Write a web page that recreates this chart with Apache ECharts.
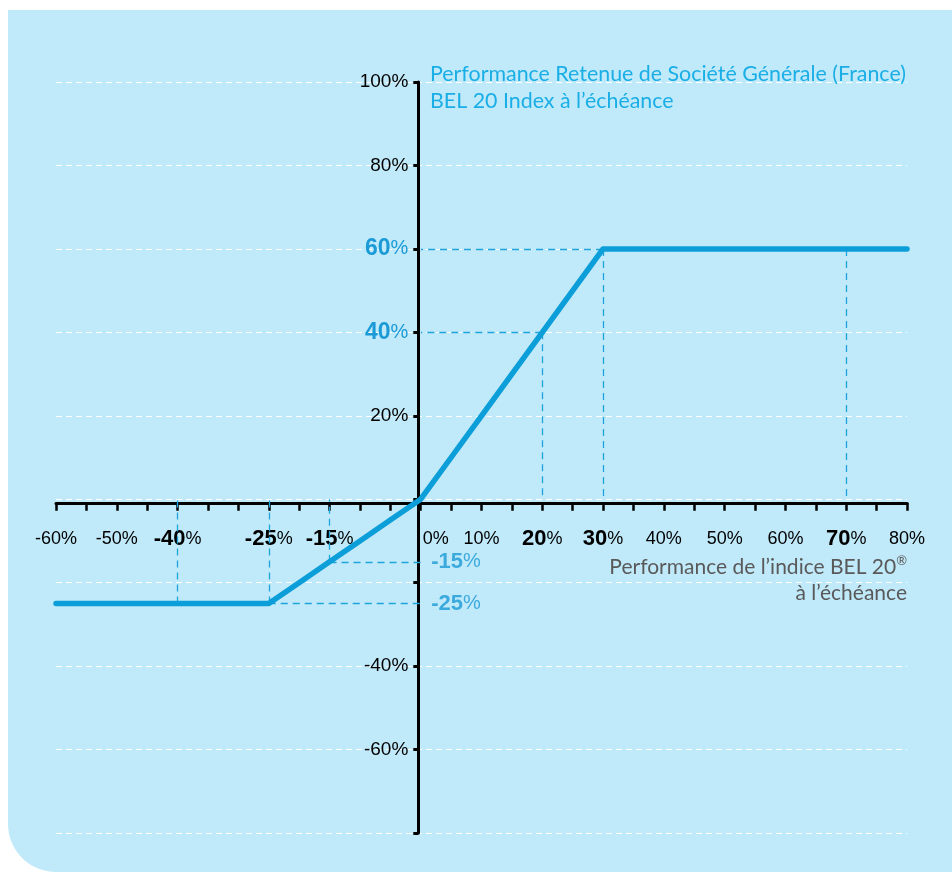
<!DOCTYPE html>
<html><head><meta charset="utf-8">
<script src="https://cdn.jsdelivr.net/npm/echarts@6/dist/echarts.min.js"></script>
<style>html,body{margin:0;padding:0;background:#fff}#c{width:952px;height:872px}</style>
</head><body><div id="c"></div>
<script>
// Data
const xPerf = [-60,-55,-50,-45,-40,-35,-30,-25,-20,-15,-10,-5,0,5,10,15,20,25,30,35,40,45,50,55,60,65,70,75,80];
const yPerf = [-25,-25,-25,-25,-25,-25,-25,-25,-20,-15,-10,-5,0,10,20,30,40,50,60,60,60,60,60,60,60,60,60,60,60];
const xBoldTicks = [-40,-25,-15,20,30,70];
const xHiddenTicks = [-30,-20,-10];
const yLabelValues = [100,80,60,40,20,-40,-60];
const yBlueTicks = [60,40];
const verticalGuides = [[-40,-25],[-25,-25],[-15,-15],[20,40],[30,60],[70,60]];
const horizontalGuides = [[-25,-25],[-15,-15],[20,40],[30,60]];
const sideLabels = [[0,-15],[0,-25]];
const titleLines = ['Performance Retenue de Société Générale (France)','BEL 20 Index à l’échéance'];
const xNameLines = ['Performance de l’indice BEL 20','à l’échéance'];

const BLUE = '#0b9ed8';
const GUIDE = '#1ea3dc';
const AX = 'Liberation Sans, Arial, sans-serif';
const TF = 'Lato, "Open Sans", sans-serif';

const markData = [];
verticalGuides.forEach(p => markData.push([{coord:[p[0],p[1]]},{coord:[p[0],0]}]));
horizontalGuides.forEach(p => markData.push([{coord:[p[0],p[1]]},{coord:[0,p[1]]}]));

const chart = echarts.init(document.getElementById('c'), null, {renderer:'canvas'});
chart.setOption({
  animation:false,
  backgroundColor:'#ffffff',
  graphic:[
    {type:'rect', z:-10, silent:true, shape:{x:8,y:10,width:944,height:862,r:[0,0,0,48]}, style:{fill:'#c0eafa'}},
    {type:'text', z:10, x:430, y:61, style:{text:titleLines.join('\n'), fill:'#1aaee6', font:'21.4px '+TF, lineHeight:27, align:'left', verticalAlign:'top'}},
    {type:'text', z:10, x:907, y:554, style:{
      text:'{a|'+xNameLines[0]+'}{s|®}\n{a|'+xNameLines[1]+'}', align:'right', verticalAlign:'top',
      rich:{a:{fill:'#595959', font:'21px '+TF, lineHeight:26, align:'right'},
            s:{fill:'#595959', font:'13px '+TF, lineHeight:26, verticalAlign:'top', padding:[0,0,9,0]}}
    }}
  ],
  grid:{left:56, right:45, top:82, bottom:39, containLabel:false},
  xAxis:{
    type:'value', min:-60, max:80, interval:5, position:'bottom', offset:0,
    axisLine:{onZero:false, lineStyle:{color:'#000', width:3}},
    axisTick:{show:true, length:8, lineStyle:{color:'#000', width:2.5}},
    splitLine:{show:false},
    axisLabel:{
      margin:24,
      formatter:function(v){
        if (xBoldTicks.indexOf(v) >= 0) return '{b|'+v+'}{p|%}';
        if (v === 0) return '{z|0%}';
        if (v % 10 === 0 && xHiddenTicks.indexOf(v) < 0) return '{n|'+v+'%}';
        return '';
      },
      rich:{
        b:{fontFamily:AX, fontWeight:'bold', fontSize:22, color:'#000', lineHeight:24},
        p:{fontFamily:AX, fontSize:18, color:'#000', lineHeight:24},
        n:{fontFamily:AX, fontSize:18, color:'#000', lineHeight:24},
        z:{fontFamily:AX, fontSize:18, color:'#000', lineHeight:24, padding:[0,0,0,30]}
      }
    }
  },
  yAxis:{
    type:'value', min:-80, max:100, interval:20, position:'left', offset:0,
    axisLine:{onZero:false, lineStyle:{color:'#000', width:3}},
    axisTick:{show:true, length:5, lineStyle:{color:'#000', width:3}},
    splitLine:{show:true, lineStyle:{color:'#ffffff', width:1.2, type:[6,4]}},
    axisLabel:{
      margin:10,
      formatter:function(v){
        if (yBlueTicks.indexOf(v) >= 0) return '{bb|'+v+'}{bp|%}';
        if (yLabelValues.indexOf(v) >= 0) return '{n|'+v+'%}';
        return '';
      },
      rich:{
        bb:{fontFamily:AX, fontWeight:'bold', fontSize:23, color:'#1a9ad6'},
        bp:{fontFamily:AX, fontSize:20, color:'#1a9ad6'},
        n:{fontFamily:AX, fontSize:19, color:'#000'}
      }
    }
  },
  series:[
    {
      type:'line', data:xPerf.map((x,i)=>[x,yPerf[i]]), showSymbol:false, symbol:'none',
      lineStyle:{color:BLUE, width:5.5, cap:'round', join:'round'}, z:5,
      markLine:{silent:true, symbol:['none','none'], label:{show:false},
        lineStyle:{color:GUIDE, width:1.3, type:[7,5]}, data:markData, z:3}
    },
    {
      type:'scatter', data:sideLabels, symbolSize:1, itemStyle:{color:'rgba(0,0,0,0)'}, silent:true, z:6,
      label:{show:true, position:'right', distance:10,
        formatter:function(p){ return '{bb|'+p.value[1]+'}{bp|%}'; },
        rich:{
          bb:{fontFamily:AX, fontWeight:'bold', fontSize:22, color:'#1a9ad6'},
          bp:{fontFamily:AX, fontSize:20, color:'#1a9ad6'}
        }
      }
    }
  ]
});
// Move both axes (line, ticks and labels) onto the zero of the other axis, using the chart's own scales
const origin = chart.convertToPixel({gridIndex:0}, [0,0]);
const corner = chart.convertToPixel({gridIndex:0}, [-60,-80]);
chart.setOption({
  xAxis:{offset: origin[1] - corner[1]},
  yAxis:{offset: corner[0] - origin[0]}
});
</script></body></html>
